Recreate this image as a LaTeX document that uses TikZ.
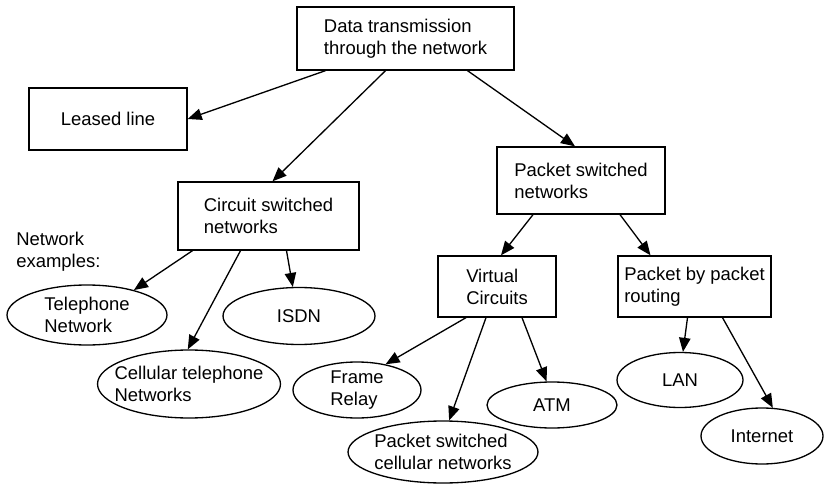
\documentclass[tikz,border=0pt]{standalone}
\usepackage{fontspec}
\setmainfont{Liberation Sans}
\usepackage{tikz}
\usetikzlibrary{shapes.geometric, arrows.meta, calc}

\begin{document}
\begin{tikzpicture}[x=0.02cm, y=-0.02cm, font=\fontsize{10.5}{12.5}\selectfont]
    \tikzstyle{box} = [rectangle, draw=black, line width=0.75pt, align=left, inner sep=0pt]
    \tikzstyle{oval} = [ellipse, draw=black, line width=0.75pt, align=left, inner ysep=0pt, inner xsep=-6pt]
    \tikzstyle{arrow} = [line width=0.75pt,->,>={Triangle[length=8pt,width=6.5pt]}]
    \useasboundingbox (0,0) rectangle (824,489);

    \node (data) [box, minimum width=4.34cm, minimum height=1.26cm] at (405.5,38.5) {Data transmission\\through the network};
    \node (leased) [box, minimum width=3.16cm, minimum height=1.24cm] at (108,119) {Leased line};
    \node (circuit) [box, minimum width=3.62cm, minimum height=1.36cm] at (268.5,216) {Circuit switched\\networks};
    \node (packet) [box, minimum width=3.36cm, minimum height=1.34cm] at (581,180.5) {Packet switched\\networks};
    \node (virtual) [box, minimum width=2.36cm, minimum height=1.22cm] at (497,286.5) {Virtual\\Circuits};
    \node (routing) [box, minimum width=3.06cm, minimum height=1.22cm] at (694.5,286.5) {Packet by packet\\routing};

    \node (examples) [anchor=west, align=left, inner sep=0pt] at (16,252) {Network\\examples:};

    \node (telephone) [oval, minimum width=3.2cm, minimum height=1.2cm] at (87,315) {Telephone\\Network};
    \node (isdn) [oval, minimum width=3.04cm, minimum height=1.14cm] at (299,316) {ISDN};
    \node (cellular) [oval, minimum width=3.66cm, minimum height=1.36cm] at (189,384) {Cellular telephone\\Networks};
    \node (frame) [oval, minimum width=2.56cm, minimum height=1.12cm] at (357,390) {Frame\\Relay};
    \node (atm) [oval, minimum width=2.6cm, minimum height=0.92cm] at (552,405) {ATM};
    \node (pcell) [oval, minimum width=3.8cm, minimum height=1.24cm] at (443,452) {Packet switched\\cellular networks};
    \node (lan) [oval, minimum width=2.52cm, minimum height=1.1cm] at (680,380) {LAN};
    \node (internet) [oval, minimum width=2.44cm, minimum height=1.12cm] at (762,436) {Internet};

    \draw [arrow] ($(data.south)+(-80,0)$) -- (leased.east);
    \draw [arrow] ($(data.south)+(-20,0)$) -- ($(circuit.north)+(4,0)$);
    \draw [arrow] ($(data.south)+(62,0)$) -- ($(packet.north)+(-6,0)$);
    \draw [arrow] ($(circuit.south)+(-76,0)$) -- (telephone.28);
    \draw [arrow] ($(circuit.south)+(-28,0)$) -- (cellular.92);
    \draw [arrow] ($(circuit.south)+(18,0)$) -- (isdn.102);
    \draw [arrow] ($(packet.south)+(-48,0)$) -- ($(virtual.north)+(4,0)$);
    \draw [arrow] ($(packet.south)+(39,0)$) -- ($(routing.north)+(-44,0)$);
    \draw [arrow] ($(virtual.south)+(-31,0)$) -- (frame.42);
    \draw [arrow] ($(virtual.south)+(-11,0)$) -- (pcell.79);
    \draw [arrow] ($(virtual.south)+(25,0)$) -- (atm.103);
    \draw [arrow] ($(routing.south)+(-7,0)$) -- (lan.84);
    \draw [arrow] ($(routing.south)+(28,0)$) -- (internet.69);
\end{tikzpicture}
\end{document}
